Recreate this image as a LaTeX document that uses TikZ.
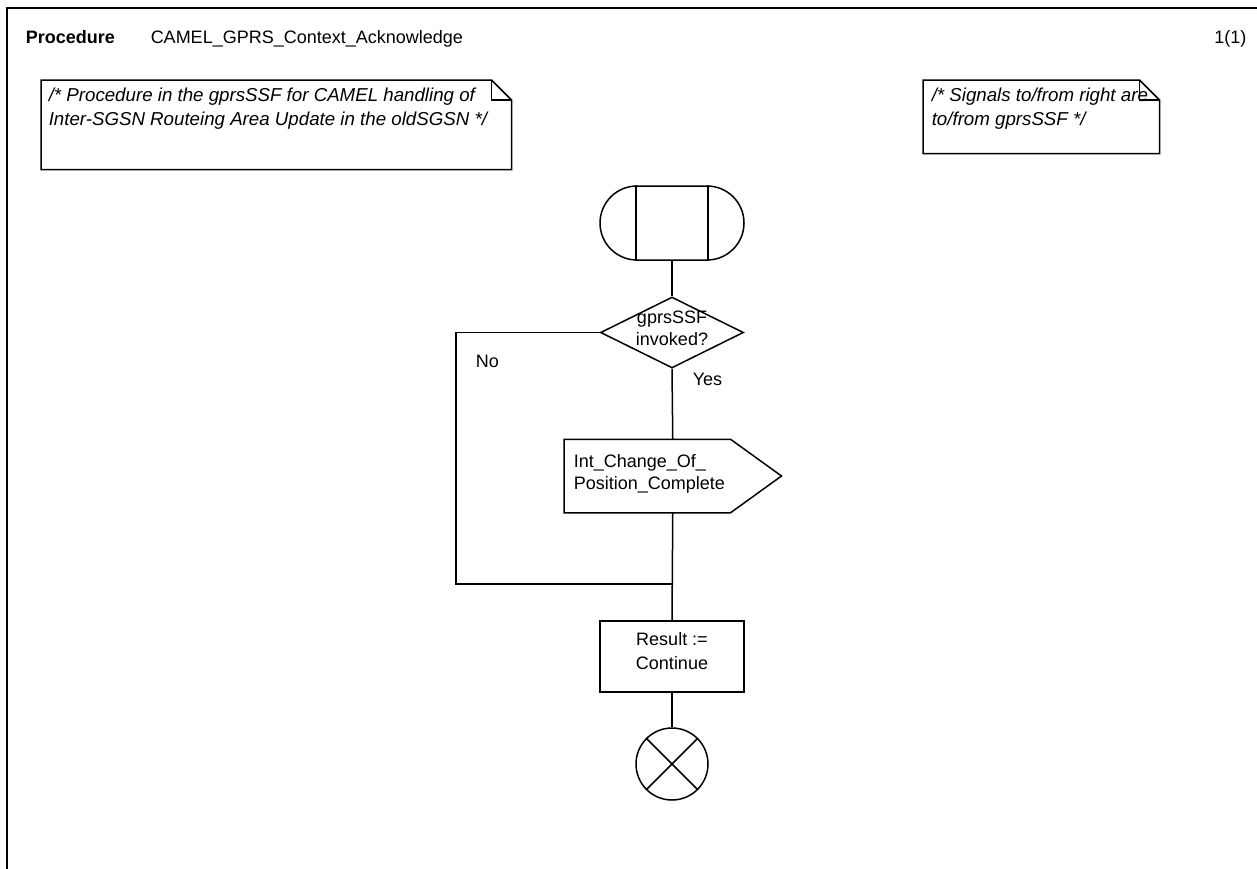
\documentclass[tikz,border=0pt]{standalone}
\usepackage{fontspec}
\setmainfont{Liberation Sans}
\usetikzlibrary{shapes.geometric,shapes.misc,calc}
\tikzset{
  lbl/.style={inner sep=0pt, font=\fontsize{18}{22}\selectfont},
  tasklbl/.style={inner sep=0pt, font=\fontsize{18}{24}\selectfont, align=center},
  notetxt/.style={inner sep=0pt, font=\itshape\fontsize{18.7}{24}\selectfont, align=left, anchor=west},
  bounds/.style={inner sep=0pt, anchor=north west},
}
\begin{document}
\begin{tikzpicture}[x=1pt,y=-1pt,line width=1.5pt,line join=miter]
\useasboundingbox (0,0) rectangle (1257,868);
% frame
\draw (7,880) -- (7,8) -- (1270,8);
% header
\node[lbl, font=\bfseries\fontsize{18}{22}\selectfont, anchor=base west] (proc) at (25,43) {Procedure};
\node[lbl, anchor=base west] (title) at (150,43) {CAMEL\_GPRS\_Context\_Acknowledge};
\node[lbl, anchor=base east] (page) at (1247,43) {1(1)};
% note 1
\node[bounds, minimum width=469, minimum height=88] (n1) at (41,80) {};
\draw (n1.north west) -- ($(n1.north east)+(-20,0)$) -- ($(n1.north east)+(0,20)$) -- (n1.south east) -- (n1.south west) -- cycle;
\draw ($(n1.north east)+(-20,0)$) -- ++(0,20) -- ++(20,0);
\node[notetxt] (n1t) at (48,108.5) {\strut /* Procedure in the gprsSSF for CAMEL handling of\\\strut Inter-SGSN Routeing Area Update in the oldSGSN */};
% note 2
\node[bounds, minimum width=235, minimum height=72] (n2) at (923,80) {};
\draw (n2.north west) -- ($(n2.north east)+(-20,0)$) -- ($(n2.north east)+(0,20)$) -- (n2.south east) -- (n2.south west) -- cycle;
\draw ($(n2.north east)+(-20,0)$) -- ++(0,20) -- ++(20,0);
\node[notetxt] (n2t) at (931,108.5) {\strut /* Signals to/from right are\\\strut to/from gprsSSF */};
% start
\node[draw, rounded rectangle, minimum width=144, minimum height=74, inner sep=0pt] (start) at (672,223) {};
\draw ($(start.north)+(-36,0)$) -- ($(start.south)+(-36,0)$);
\draw ($(start.north)+(36,0)$) -- ($(start.south)+(36,0)$);
% decision
\node[draw, diamond, minimum width=143, minimum height=71, inner sep=0pt] (dec) at (672,332.5) {};
\node[lbl, align=center] (dect) at (672,329.6) {\strut gprsSSF\\\strut invoked?};
% output signal
\node[inner sep=0pt, minimum width=216, minimum height=72, anchor=west] (sig) at (564,476) {};
\draw (sig.north west) -- ($(sig.north east)+(-51,0)$) -- (sig.east) -- ($(sig.south east)+(-51,0)$) -- (sig.south west) -- cycle;
\node[lbl, align=left, anchor=west] (sigt) at (573,473.6) {\strut Int\_Change\_Of\_\\\strut Position\_Complete};
% task
\node[draw, minimum width=144, minimum height=71, inner sep=0pt] (task) at (672,656.5) {};
\node[tasklbl] (taskt) at (672,652.2) {\strut Result :=\\\strut Continue};
% stop
\node[draw, circle, minimum size=72, inner sep=0pt] (stop) at (672,764) {};
\draw (stop.45) -- (stop.225);
\draw (stop.135) -- (stop.315);
% connectors
\draw (start.south) -- (dec.north);
\draw (dec.south) -- (sig.north);
\draw (sig.south) -- (task.north);
\draw (task.south) -- (stop.north);
\coordinate (nl) at (456,584);
\coordinate (nj) at (672,584);
\draw (dec.west) -| (nl) -- (nj);
% branch labels
\node[lbl, anchor=base west] (yes) at (692,385) {Yes};
\node[lbl, anchor=base west] (no) at (475,367) {No};
\end{tikzpicture}
\end{document}
